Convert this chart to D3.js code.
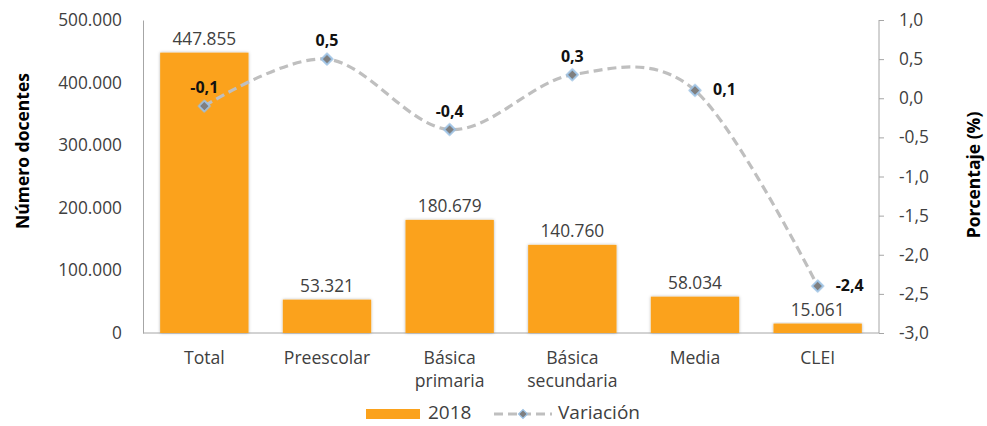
<!DOCTYPE html>
<html>
<head>
<meta charset="utf-8">
<script src="https://cdn.jsdelivr.net/npm/d3@7"></script>
<style>
  body { margin: 0; background: #fff; }
  text { font-family: "Open Sans", "Noto Sans", sans-serif; }
</style>
</head>
<body>
<div id="chart"></div>
<script>
// datos
const categories = ["Total", "Preescolar", "Básica primaria", "Básica secundaria", "Media", "CLEI"];
const catLines = [["Total"], ["Preescolar"], ["Básica", "primaria"], ["Básica", "secundaria"], ["Media"], ["CLEI"]];
const docentes2018 = [447855, 53321, 180679, 140760, 58034, 15061];
const variacion = [-0.1, 0.5, -0.4, 0.3, 0.1, -2.4];
const leftTicks = [0, 100000, 200000, 300000, 400000, 500000];
const rightTicks = [1.0, 0.5, 0.0, -0.5, -1.0, -1.5, -2.0, -2.5, -3.0];

const width = 987, height = 426;
const margin = { top: 20, right: 108, bottom: 93, left: 143 };
const innerW = width - margin.left - margin.right;
const innerH = height - margin.top - margin.bottom;

const svg = d3.select("#chart").append("svg")
  .attr("width", width).attr("height", height);

const defs = svg.append("defs");
const shadow = defs.append("filter").attr("id", "sh")
  .attr("x", "-10%").attr("y", "-10%").attr("width", "120%").attr("height", "120%");
shadow.append("feDropShadow").attr("dx", 0).attr("dy", 0)
  .attr("stdDeviation", 1.6).attr("flood-color", "#000").attr("flood-opacity", 0.3);

const g = svg.append("g").attr("transform", `translate(${margin.left},${margin.top})`);

const x = d3.scaleBand().domain(categories).range([0, innerW]).paddingInner(0.28).paddingOuter(0.14);
const yL = d3.scaleLinear().domain([0, 500000]).range([innerH, 0]);
const yR = d3.scaleLinear().domain([-3, 1]).range([innerH, 0]);

const fmtN = d => d3.format(",")(d).replace(/,/g, ".");
const fmtP = d => d3.format(".1f")(d).replace("−", "-").replace(".", ",");

// eje izquierdo
const axL = g.append("g").call(d3.axisLeft(yL).tickValues(leftTicks).tickSize(0).tickPadding(21).tickFormat(fmtN));
axL.select(".domain").attr("stroke", "#A6A6A6");
axL.selectAll("text").attr("font-size", 17.3).attr("fill", "#404040");

// eje derecho
const axR = g.append("g").attr("transform", `translate(${innerW},0)`)
  .call(d3.axisRight(yR).tickValues(rightTicks).tickSize(5).tickPadding(15).tickFormat(fmtP));
axR.select(".domain").attr("stroke", "#A6A6A6").attr("d", `M0,0V${innerH}`);
axR.selectAll(".tick line").attr("stroke", "#A6A6A6");
axR.selectAll("text").attr("font-size", 17.3).attr("fill", "#404040");

// eje x
g.append("line").attr("x1", 0).attr("x2", innerW).attr("y1", innerH).attr("y2", innerH)
  .attr("stroke", "#A6A6A6");
const xl = g.append("g").selectAll("text").data(categories).join("text")
  .attr("x", d => x(d) + x.bandwidth() / 2)
  .attr("y", innerH + 31)
  .attr("text-anchor", "middle").attr("font-size", 17.6).attr("fill", "#404040");
xl.selectAll("tspan").data((d, i) => catLines[i]).join("tspan")
  .attr("x", function () { return this.parentNode.getAttribute("x"); })
  .attr("dy", (d, i) => i === 0 ? 0 : 23)
  .text(d => d);

// barras
g.append("g").selectAll("rect").data(docentes2018).join("rect")
  .attr("x", (d, i) => x(categories[i]))
  .attr("y", d => yL(d))
  .attr("width", x.bandwidth())
  .attr("height", d => innerH - yL(d))
  .attr("fill", "#FBA21C")
  .attr("filter", "url(#sh)");

g.append("g").selectAll("text").data(docentes2018).join("text")
  .attr("x", (d, i) => x(categories[i]) + x.bandwidth() / 2)
  .attr("y", d => yL(d) - 8)
  .attr("text-anchor", "middle").attr("font-size", 17.3).attr("fill", "#404040")
  .text(fmtN);

// línea de variación
const cx = i => x(categories[i]) + x.bandwidth() / 2;
const line = d3.line().x((d, i) => cx(i)).y(d => yR(d)).curve(d3.curveCardinal.tension(0));
g.append("path").datum(variacion).attr("d", line)
  .attr("fill", "none").attr("stroke", "#BFBFBF").attr("stroke-width", 3.2)
  .attr("stroke-dasharray", "9,5");

g.append("g").selectAll("path").data(variacion).join("path")
  .attr("transform", (d, i) => `translate(${cx(i)},${yR(d)}) rotate(45)`)
  .attr("d", d3.symbol().type(d3.symbolSquare).size(60))
  .attr("fill", "#7F7F7F").attr("stroke", "#9DC3E6").attr("stroke-width", 1.6)
  .attr("filter", "url(#sh)");

// etiquetas de variación (arriba o a la derecha)
const labelPos = ["above", "above", "above", "above", "right", "right"];
g.append("g").selectAll("text").data(variacion).join("text")
  .attr("x", (d, i) => labelPos[i] === "right" ? cx(i) + 18 : cx(i))
  .attr("y", (d, i) => labelPos[i] === "right" ? yR(d) + 5 : yR(d) - 13)
  .attr("text-anchor", (d, i) => labelPos[i] === "right" ? "start" : "middle")
  .attr("font-size", 16).attr("font-weight", "bold").attr("fill", "#111")
  .text(fmtP);

// títulos de ejes
svg.append("text").attr("transform", "translate(29,151) rotate(-90)")
  .attr("text-anchor", "middle").attr("font-size", 17.5).attr("font-weight", "bold").attr("fill", "#000")
  .text("Número docentes");
svg.append("text").attr("transform", "translate(980,175) rotate(-90)")
  .attr("text-anchor", "middle").attr("font-size", 17.5).attr("font-weight", "bold").attr("fill", "#000")
  .text("Porcentaje (%)");

// leyenda
const lg = svg.append("g").attr("transform", "translate(366,414)");
lg.append("rect").attr("x", 0).attr("y", -5).attr("width", 54).attr("height", 10).attr("fill", "#FBA21C");
lg.append("text").attr("x", 62).attr("y", 5).attr("font-size", 19).attr("fill", "#404040").text("2018");
lg.append("line").attr("x1", 128).attr("x2", 186).attr("y1", 0).attr("y2", 0)
  .attr("stroke", "#BFBFBF").attr("stroke-width", 3.2).attr("stroke-dasharray", "9,5");
lg.append("path").attr("transform", "translate(157,0) rotate(45)")
  .attr("d", d3.symbol().type(d3.symbolSquare).size(40))
  .attr("fill", "#7F7F7F").attr("stroke", "#9DC3E6").attr("stroke-width", 1.2);
lg.append("text").attr("x", 192).attr("y", 5).attr("font-size", 19).attr("fill", "#404040").text("Variación");
</script>
</body>
</html>
